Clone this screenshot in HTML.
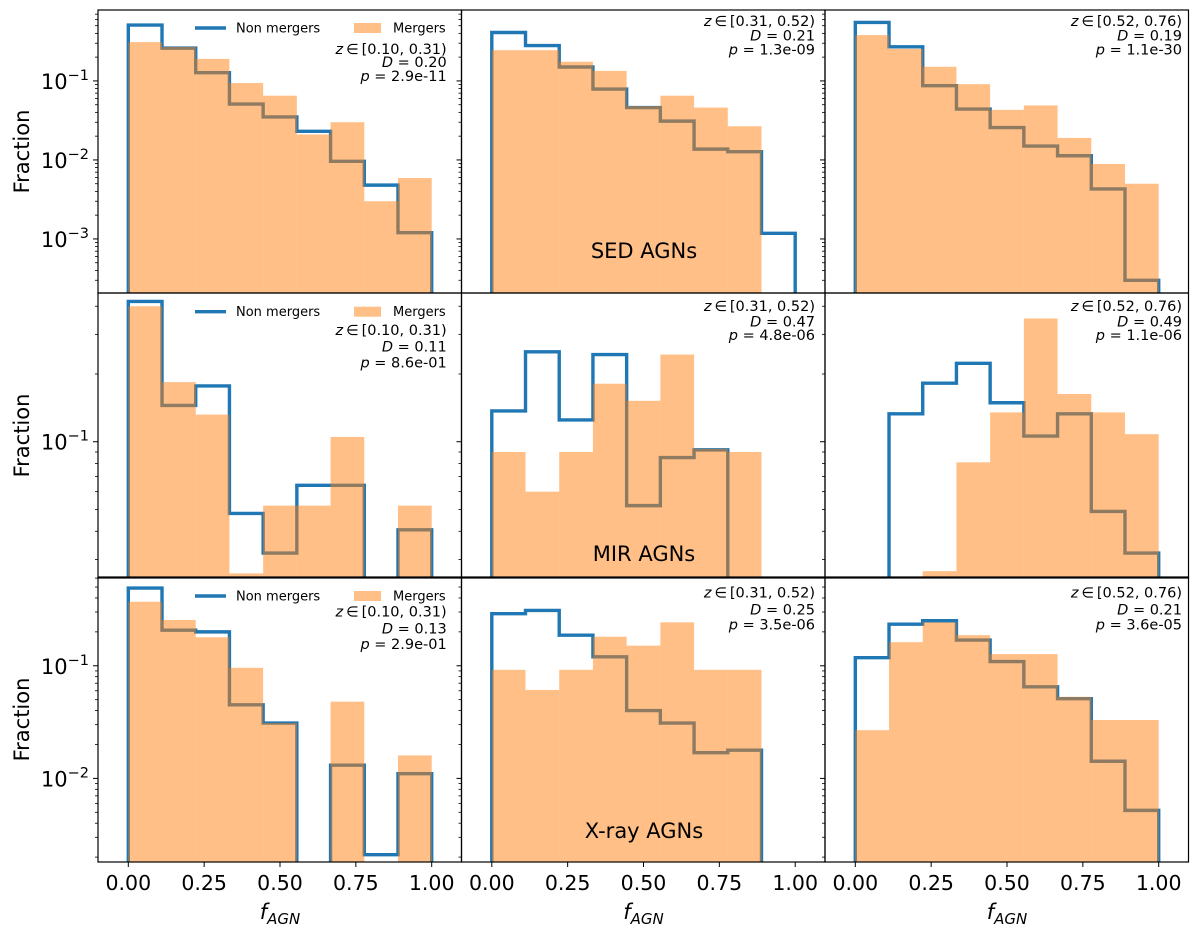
<!DOCTYPE html>
<html><head><meta charset="utf-8">
<style>
html,body{margin:0;padding:0;background:#fff;}
svg{display:block;font-family:"DejaVu Sans","Liberation Sans",sans-serif;}
</style></head>
<body>
<svg id="fig" width="1200" height="931" viewBox="0 0 1200 931" xmlns="http://www.w3.org/2000/svg"></svg>
<script>
// ---- data ----
const binEdges = [0, 1/9, 2/9, 3/9, 4/9, 5/9, 6/9, 7/9, 8/9, 1];
const xTickValues = [0, 0.25, 0.5, 0.75, 1.0];
const xTickLabels = ["0.00", "0.25", "0.50", "0.75", "1.00"];
const rowNames = ["SED AGNs", "MIR AGNs", "X-ray AGNs"];
const zRanges = ["[0.10, 0.31)", "[0.31, 0.52)", "[0.52, 0.76)"];
// row 1 (SED)
const nonMergersSED1 = [0.51, 0.26, 0.127, 0.051, 0.035, 0.023, 0.0096, 0.0048, 0.0012];
const mergersSED1 = [0.31, 0.27, 0.19, 0.094, 0.065, 0.021, 0.030, 0.003, 0.0059];
const nonMergersSED2 = [0.41, 0.28, 0.15, 0.079, 0.046, 0.031, 0.0137, 0.0127, 0.00118];
const mergersSED2 = [0.245, 0.245, 0.175, 0.134, 0.048, 0.065, 0.046, 0.0267, 0];
const nonMergersSED3 = [0.55, 0.27, 0.087, 0.044, 0.0257, 0.015, 0.0113, 0.0043, 0.0003];
const mergersSED3 = [0.38, 0.254, 0.151, 0.091, 0.043, 0.049, 0.019, 0.0089, 0.005];
// row 2 (MIR)
const nonMergersMIR1 = [0.42, 0.145, 0.177, 0.048, 0.032, 0.064, 0.064, 0, 0.0406];
const mergersMIR1 = [0.40, 0.184, 0.132, 0.026, 0.052, 0.052, 0.105, 0, 0.052];
const nonMergersMIR2 = [0.137, 0.251, 0.125, 0.244, 0.052, 0.085, 0.092, 0, 0];
const mergersMIR2 = [0.090, 0.060, 0.090, 0.181, 0.152, 0.244, 0.093, 0.090, 0];
const nonMergersMIR3 = [0, 0.133, 0.182, 0.223, 0.149, 0.106, 0.133, 0.049, 0.032];
const mergersMIR3 = [0, 0, 0.0266, 0.081, 0.135, 0.353, 0.163, 0.135, 0.108];
// row 3 (X-ray)
const nonMergersX1 = [0.49, 0.207, 0.20, 0.045, 0.031, 0, 0.0131, 0.0021, 0.011];
const mergersX1 = [0.37, 0.255, 0.179, 0.096, 0.031, 0, 0.048, 0, 0.016];
const nonMergersX2 = [0.29, 0.31, 0.187, 0.12, 0.040, 0.031, 0.0169, 0.0178, 0];
const mergersX2 = [0.092, 0.061, 0.092, 0.181, 0.151, 0.243, 0.092, 0.092, 0];
const nonMergersX3 = [0.118, 0.234, 0.251, 0.169, 0.109, 0.065, 0.051, 0.0142, 0.0052];
const mergersX3 = [0.0268, 0.162, 0.243, 0.187, 0.127, 0.127, 0.053, 0.033, 0.033];
const Dvalues = [["0.20","0.21","0.19"],["0.11","0.47","0.49"],["0.13","0.25","0.21"]];
const pvalues = [["2.9e-11","1.3e-09","1.1e-30"],["8.6e-01","4.8e-06","1.1e-06"],["2.9e-01","3.5e-06","3.6e-05"]];
const yLimits = [[2.07e-4, 0.79], [0.0248, 0.458], [0.00181, 0.614]];
const yMajorTicks = [[-1, -2, -3], [-1], [-1, -2]];

const nonMergers = [[nonMergersSED1, nonMergersSED2, nonMergersSED3],[nonMergersMIR1, nonMergersMIR2, nonMergersMIR3],[nonMergersX1, nonMergersX2, nonMergersX3]];
const mergers = [[mergersSED1, mergersSED2, mergersSED3],[mergersMIR1, mergersMIR2, mergersMIR3],[mergersX1, mergersX2, mergersX3]];

// ---- layout ----
const colLeft = [98, 461.5, 825], colW = 363.5;
const rowTop = [10, 293, 577], rowBot = [293, 578, 862];
const annotRight = [446.7, 815, 1182];
const annotY = [[49, 62, 76, 28], [330, 346.5, 362.5, 311.7], [611.7, 628.5, 644, 596]];
const annotYR = [[21, 35.7, 49.3], [306, 321.7, 335], [592.7, 609.3, 624.3]];

const NS = "http://www.w3.org/2000/svg";
const svg = document.getElementById("fig");
function mk(tag, attrs, parent) {
  const e = document.createElementNS(NS, tag);
  for (const k in attrs) e.setAttribute(k, attrs[k]);
  (parent || svg).appendChild(e);
  return e;
}
function xScale(c, v) { return colLeft[c] + 30.3 + v * 303.4; }
function yScale(r, v) {
  const lo = Math.log10(yLimits[r][0]), hi = Math.log10(yLimits[r][1]);
  if (v <= 0) return rowBot[r] + 50;
  return rowBot[r] - (Math.log10(v) - lo) / (hi - lo) * (rowBot[r] - rowTop[r]);
}
const defs = mk("defs", {});

for (let r = 0; r < 3; r++) {
  for (let c = 0; c < 3; c++) {
    const g = mk("g", {});
    
    
    const cp = mk("clipPath", {id: "cp" + r + c}, defs);
    mk("rect", {x: colLeft[c], y: rowTop[r], width: colW, height: rowBot[r] - rowTop[r]}, cp);
    const plot = mk("g", {"clip-path": "url(#cp" + r + c + ")"}, g);
    const nm = nonMergers[r][c];
    let d = "";
    const base = rowBot[r] + 50;
    d += "M" + xScale(c, binEdges[0]) + "," + base;
    for (let i = 0; i < nm.length; i++) {
      const y = yScale(r, nm[i]);
      d += " L" + xScale(c, binEdges[i]) + "," + y + " L" + xScale(c, binEdges[i+1]) + "," + y;
    }
    d += " L" + xScale(c, binEdges[nm.length]) + "," + base;
    const step = mk("path", {d: d, fill: "none", stroke: "#1f77b4", "stroke-width": 3.4}, plot);
    
    
    const mg = mergers[r][c];
    for (let i = 0; i < mg.length; i++) {
      if (mg[i] <= 0) continue;
      const y = yScale(r, mg[i]);
      const bar = mk("rect", {x: xScale(c, binEdges[i]), y: y, width: xScale(c, binEdges[i+1]) - xScale(c, binEdges[i]), height: base - y, fill: "#ff7f0e", "fill-opacity": 0.5}, plot);
      
      
    }
    const fr = mk("rect", {x: colLeft[c], y: rowTop[r], width: colW, height: rowBot[r] - rowTop[r], fill: "none", stroke: "#000", "stroke-width": 1.2}, g);
    
    
    const lo = Math.log10(yLimits[r][0]), hi = Math.log10(yLimits[r][1]);
    for (let n = Math.floor(lo); n <= Math.ceil(hi); n++) {
      for (let k = 1; k <= 9; k++) {
        const v = k * Math.pow(10, n);
        const lv = Math.log10(v);
        if (lv < lo || lv > hi) continue;
        const y = yScale(r, v);
        const len = k === 1 ? 5 : 3;
        mk("line", {x1: colLeft[c] - len, x2: colLeft[c], y1: y, y2: y, stroke: "#000", "stroke-width": k === 1 ? 1 : 0.8}, g);
      }
    }
    if (c === 0) {
      yMajorTicks[r].forEach(function (e) {
        const y = yScale(r, Math.pow(10, e));
        const t = mk("text", {x: 89, y: y + 8, "text-anchor": "end", "font-size": 21}, g);
        
        
        t.textContent = "10";
        const s = mk("tspan", {"font-size": 14.5, dy: -9}, t);
        s.textContent = "\u2212" + (-e);
      });
      const ft = mk("text", {x: 0, y: 0, "text-anchor": "middle", "font-size": 21, transform: "translate(29," + ((rowTop[r] + rowBot[r]) / 2) + ") rotate(-90)"}, g);
      
      
      ft.textContent = "Fraction";
      const ly = annotY[r][3];
      const ll = mk("line", {x1: 195, x2: 226, y1: ly, y2: ly, stroke: "#1f77b4", "stroke-width": 3.4}, g);
      
      
      const lt = mk("text", {x: 236, y: ly + 4.5, "font-size": 13}, g);
      
      
      lt.textContent = "Non mergers";
      const lp = mk("rect", {x: 354, y: ly - 5, width: 27, height: 10, fill: "#ff7f0e", "fill-opacity": 0.5}, g);
      
      
      const lm = mk("text", {x: 393, y: ly + 4.5, "font-size": 13}, g);
      
      
      lm.textContent = "Mergers";
    } else if (c === 1) {
      const rl = mk("text", {x: 644, y: [258, 561, 838][r], "text-anchor": "middle", "font-size": 21}, g);
      
      
      rl.textContent = rowNames[r];
    }
    const ys = c === 0 ? annotY[r] : annotYR[r];
    const ax = annotRight[c];
    const a1 = mk("text", {x: ax, y: ys[0] + 5, "text-anchor": "end", "font-size": 14.5}, g);
    
    
    a1.innerHTML = '<tspan font-style="italic">z</tspan>\u2009\u2208\u2009' + zRanges[c];
    const a2 = mk("text", {x: ax, y: ys[1] + 5, "text-anchor": "end", "font-size": 14.5}, g);
    
    
    a2.innerHTML = '<tspan font-style="italic">D</tspan> = ' + Dvalues[r][c];
    const a3 = mk("text", {x: ax, y: ys[2] + 5, "text-anchor": "end", "font-size": 14.5}, g);
    
    
    a3.innerHTML = '<tspan font-style="italic">p</tspan> = ' + pvalues[r][c];
    xTickValues.forEach(function (v, i) {
      const x = xScale(c, v);
      mk("line", {x1: x, x2: x, y1: rowBot[r], y2: rowBot[r] + (r === 2 ? 5 : 0), stroke: "#000", "stroke-width": 1}, g);
      if (r === 2) {
        const t = mk("text", {x: x, y: 890, "text-anchor": "middle", "font-size": 20.5}, g);
        
        
        t.textContent = xTickLabels[i];
      }
    });
    if (r === 2) {
      const xt = mk("text", {x: xScale(c, 0.5), y: 919, "text-anchor": "middle", "font-size": 21}, g);
      
      
      xt.innerHTML = '<tspan font-style="italic">f</tspan><tspan font-style="italic" font-size="15" dy="5">AGN</tspan>';
    }
  }
}
</script>
</body></html>
